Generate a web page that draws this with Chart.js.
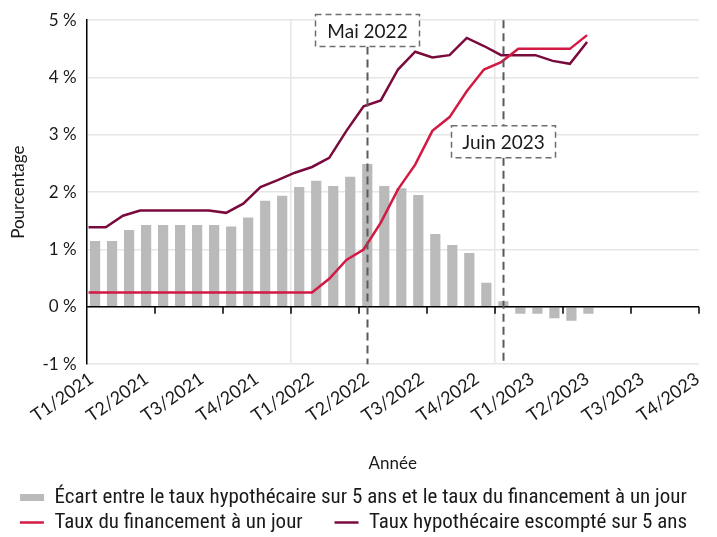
<!DOCTYPE html>
<html lang="fr">
  <head>
    <meta charset="UTF-8" />
    <title>Écart entre le taux hypothécaire sur 5 ans et le taux du financement à un jour</title>
    <script src="https://cdnjs.cloudflare.com/ajax/libs/Chart.js/4.4.1/chart.umd.min.js"></script>
    <style>
      body {
        margin: 0;
        padding: 0;
        background: #ffffff;
      }
      .chart-container {
        width: 717px;
        height: 537px;
      }
    </style>
  </head>
  <body>
    <div class="chart-container">
      <canvas id="chart"></canvas>
    </div>

    <script>
      // Mois de janv. 2021 à déc. 2023
      const mois = [
        "janv. 2021", "févr. 2021", "mars 2021", "avr. 2021", "mai 2021", "juin 2021",
        "juil. 2021", "août 2021", "sept. 2021", "oct. 2021", "nov. 2021", "déc. 2021",
        "janv. 2022", "févr. 2022", "mars 2022", "avr. 2022", "mai 2022", "juin 2022",
        "juil. 2022", "août 2022", "sept. 2022", "oct. 2022", "nov. 2022", "déc. 2022",
        "janv. 2023", "févr. 2023", "mars 2023", "avr. 2023", "mai 2023", "juin 2023",
        "juil. 2023", "août 2023", "sept. 2023", "oct. 2023", "nov. 2023", "déc. 2023",
      ];

      // Étiquettes trimestrielles de l'axe
      const trimestres = [
        "T1/2021", "T2/2021", "T3/2021", "T4/2021",
        "T1/2022", "T2/2022", "T3/2022", "T4/2022",
        "T1/2023", "T2/2023", "T3/2023", "T4/2023",
      ];

      // Écart (barres), en %
      const ecart = [
        1.15, 1.15, 1.34, 1.43, 1.43, 1.43, 1.43, 1.43, 1.40, 1.56, 1.85, 1.94,
        2.09, 2.20, 2.11, 2.27, 2.49, 2.11, 2.07, 1.95, 1.27, 1.08, 0.94, 0.42,
        0.10, -0.12, -0.12, -0.20, -0.24, -0.12,
      ];

      // Taux du financement à un jour, en %
      const tauxJour = [
        0.25, 0.25, 0.25, 0.25, 0.25, 0.25, 0.25, 0.25, 0.25, 0.25, 0.25, 0.25,
        0.25, 0.25, 0.49, 0.82, 1.0, 1.47, 2.05, 2.48, 3.07, 3.31, 3.76, 4.14,
        4.27, 4.5, 4.5, 4.5, 4.5, 4.74,
      ];

      // Taux hypothécaire escompté sur 5 ans, en %
      const tauxHypo = [
        1.39, 1.39, 1.59, 1.68, 1.68, 1.68, 1.68, 1.68, 1.64, 1.80, 2.09, 2.21,
        2.34, 2.44, 2.60, 3.07, 3.50, 3.60, 4.14, 4.45, 4.35, 4.39, 4.69, 4.55,
        4.39, 4.39, 4.39, 4.29, 4.24, 4.62,
      ];

      // Repères annotés
      const reperes = [
        { texte: "Mai 2022", mois: 16, yBoite: 4.82, coupe: false },
        { texte: "Juin 2023", mois: 24, yBoite: 2.88, coupe: true },
      ];

      const couleurJour = "#d21a44";
      const couleurHypo = "#7b0a3c";
      const couleurEcart = "#bababa";
      const police = "Lato, 'Open Sans', sans-serif";
      const policeLegende = "'Liberation Sans Narrow', 'Roboto Condensed', Lato, sans-serif";

      // Ligne du zéro, petites graduations et annotations
      const annotations = {
        id: "annotations",
        afterDatasetsDraw(chart) {
          const { ctx, chartArea, scales } = chart;
          const x = scales.x;
          const y = scales.y;
          const y0 = y.getPixelForValue(0);
          const bande = x.getPixelForValue(1) - x.getPixelForValue(0);

          ctx.save();
          ctx.strokeStyle = "#000";
          ctx.lineWidth = 1.5;
          ctx.beginPath();
          ctx.moveTo(chartArea.left, y0);
          ctx.lineTo(chartArea.right, y0);
          for (let k = 4; k <= mois.length; k += 4) {
            const px = Math.round(x.getPixelForValue(k) - bande / 2);
            ctx.moveTo(px, y0);
            ctx.lineTo(px, y0 + 7);
          }
          ctx.stroke();

          ctx.font = "19px " + police;
          ctx.textAlign = "center";
          ctx.textBaseline = "middle";
          reperes.forEach((r) => {
            const px = Math.round(x.getPixelForValue(r.mois)) + 0.5;
            const cy = y.getPixelForValue(r.yBoite);
            const w = 104;
            const h = 32;
            const haut = cy - h / 2;
            const bas = cy + h / 2;

            ctx.setLineDash([8, 5]);
            ctx.strokeStyle = "#5a5a5a";
            ctx.lineWidth = 2;
            ctx.beginPath();
            if (r.coupe) {
              ctx.moveTo(px, chartArea.top);
              ctx.lineTo(px, haut);
            }
            ctx.moveTo(px, bas);
            ctx.lineTo(px, chartArea.bottom);
            ctx.stroke();

            ctx.fillStyle = "#fff";
            ctx.fillRect(px - w / 2, haut, w, h);
            ctx.setLineDash([6, 4]);
            ctx.strokeStyle = "#6e6e6e";
            ctx.lineWidth = 1.5;
            ctx.strokeRect(px - w / 2, haut, w, h);

            ctx.setLineDash([]);
            ctx.fillStyle = "#1a1a1a";
            ctx.fillText(r.texte, px, cy + 1);
          });
          ctx.restore();
        },
      };

      new Chart(document.getElementById("chart"), {
        type: "bar",
        data: {
          labels: mois,
          datasets: [
            {
              type: "bar",
              label: "Écart entre le taux hypothécaire sur 5 ans et le taux du financement à un jour",
              data: ecart,
              backgroundColor: couleurEcart,
              barPercentage: 0.6,
              categoryPercentage: 1,
              grouped: false,
              xAxisID: "x",
              order: 2,
            },
            {
              type: "line",
              label: "Taux du financement à un jour",
              data: tauxJour.map((v, i) => ({ x: i, y: v })),
              borderColor: couleurJour,
              backgroundColor: couleurJour,
              borderWidth: 2.5,
              pointRadius: 0,
              tension: 0,
              xAxisID: "xLigne",
              order: 0,
            },
            {
              type: "line",
              label: "Taux hypothécaire escompté sur 5 ans",
              data: tauxHypo.map((v, i) => ({ x: i, y: v })),
              borderColor: couleurHypo,
              backgroundColor: couleurHypo,
              borderWidth: 2.5,
              pointRadius: 0,
              tension: 0,
              xAxisID: "xLigne",
              order: 1,
            },
          ],
        },
        options: {
          responsive: true,
          maintainAspectRatio: false,
          animation: false,
          layout: {
            padding: { top: 2, right: 18, left: 8, bottom: -6 },
          },
          plugins: {
            tooltip: { enabled: false },
            legend: {
              position: "bottom",
              labels: {
                font: { family: policeLegende, size: 21 },
                color: "#1a1a1a",
                usePointStyle: true,
                pointStyleWidth: 24,
                boxHeight: 7,
                padding: 4,
                generateLabels(chart) {
                  return chart.data.datasets.map((ds, i) => ({
                    // espace après le premier élément de la 2e ligne
                    text: i === 1 ? ds.label + "\u2003\u2002" : ds.label,
                    datasetIndex: i,
                    fillStyle: ds.backgroundColor,
                    strokeStyle: ds.type === "bar" ? ds.backgroundColor : ds.borderColor,
                    lineWidth: ds.type === "bar" ? 0 : 2.5,
                    pointStyle: ds.type === "bar" ? "rect" : "line",
                    fontColor: "#1a1a1a",
                  }));
                },
              },
            },
          },
          scales: {
            x: {
              type: "category",
              offset: true,
              ticks: { display: false },
              border: { display: false },
              grid: {
                offset: true,
                drawTicks: false,
                color: (c) => (c.index === 12 || c.index === 24 ? "#e6e6e6" : "rgba(0,0,0,0)"),
                lineWidth: 1.5,
              },
            },
            xLigne: {
              type: "linear",
              display: false,
              offset: false,
              min: -0.116,
              max: 35.51,
            },
            xTrim: {
              type: "linear",
              position: "bottom",
              offset: false,
              min: -0.09,
              max: 11.03,
              afterBuildTicks(axis) {
                axis.ticks = trimestres.map((_, i) => ({ value: i }));
              },
              ticks: {
                callback: (v) => trimestres[v],
                minRotation: 35,
                maxRotation: 35,
                padding: 4,
                font: { family: police, size: 18 },
                color: "#1a1a1a",
              },
              grid: { display: false, drawTicks: false },
              border: { display: false },
              title: {
                display: true,
                text: "Année",
                font: { family: police, size: 17 },
                color: "#1a1a1a",
                padding: { top: 23, bottom: 9 },
              },
            },
            y: {
              min: -1,
              max: 5,
              ticks: {
                stepSize: 1,
                callback: (v) => v + " %",
                font: { family: police, size: 17 },
                color: "#1a1a1a",
                padding: 10,
              },
              grid: {
                color: "#e6e6e6",
                lineWidth: 1.5,
                drawTicks: false,
              },
              border: { display: true, color: "#000", width: 1.5 },
              title: {
                display: true,
                text: "Pourcentage",
                font: { family: police, size: 17 },
                color: "#1a1a1a",
                padding: { top: 0, bottom: 4 },
              },
            },
          },
        },
        plugins: [annotations],
      });
    </script>
  </body>
</html>
